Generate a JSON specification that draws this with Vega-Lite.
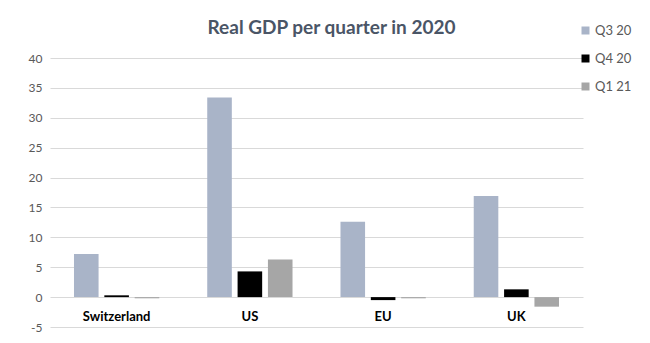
{
  "$schema": "https://vega.github.io/schema/vega-lite/v6.json",
  "width": 533,
  "height": 269,
  "autosize": "none",
  "padding": {"left": 50, "top": 58, "right": 67, "bottom": 16},
  "background": "white",
  "title": {
    "text": "Real GDP per quarter in 2020",
    "font": "Lato",
    "fontSize": 19,
    "fontWeight": "bold",
    "color": "#4a5566",
    "anchor": "middle",
    "dx": 15,
    "offset": -14
  },
  "data": {
    "values": [
      {"country": "Switzerland", "quarter": "Q3 20", "value": 7.2},
      {"country": "Switzerland", "quarter": "Q4 20", "value": 0.3},
      {"country": "Switzerland", "quarter": "Q1 21", "value": -0.2},
      {"country": "US", "quarter": "Q3 20", "value": 33.4},
      {"country": "US", "quarter": "Q4 20", "value": 4.3},
      {"country": "US", "quarter": "Q1 21", "value": 6.3},
      {"country": "EU", "quarter": "Q3 20", "value": 12.6},
      {"country": "EU", "quarter": "Q4 20", "value": -0.5},
      {"country": "EU", "quarter": "Q1 21", "value": -0.2},
      {"country": "UK", "quarter": "Q3 20", "value": 16.9},
      {"country": "UK", "quarter": "Q4 20", "value": 1.3},
      {"country": "UK", "quarter": "Q1 21", "value": -1.6}
    ]
  },
  "mark": {"type": "bar"},
  "encoding": {
    "x": {
      "field": "country",
      "type": "nominal",
      "sort": ["Switzerland", "US", "EU", "UK"],
      "scale": {"paddingInner": 0.36, "paddingOuter": 0.18},
      "axis": {
        "title": null,
        "orient": "bottom",
        "offset": -30,
        "domain": false,
        "ticks": false,
        "labelAngle": 0,
        "labelPadding": 13,
        "labelFont": "Lato",
        "labelFontSize": 13,
        "labelFontWeight": "bold",
        "labelColor": "#000000"
      }
    },
    "xOffset": {
      "field": "quarter",
      "type": "nominal",
      "sort": ["Q3 20", "Q4 20", "Q1 21"],
      "scale": {"paddingInner": 0.19}
    },
    "y": {
      "field": "value",
      "type": "quantitative",
      "scale": {"domain": [-5, 40], "nice": false},
      "axis": {
        "title": null,
        "values": [-5, 0, 5, 10, 15, 20, 25, 30, 35, 40],
        "labelExpr": "replace(datum.label, '\u2212', '-')",
        "domain": false,
        "ticks": false,
        "labelPadding": 8,
        "labelFont": "Lato",
        "labelFontSize": 12,
        "labelColor": "#595959",
        "gridColor": "#d9d9d9",
        "gridWidth": 1
      }
    },
    "color": {
      "field": "quarter",
      "type": "nominal",
      "sort": ["Q3 20", "Q4 20", "Q1 21"],
      "scale": {
        "domain": ["Q3 20", "Q4 20", "Q1 21"],
        "range": ["#a9b4c8", "#000000", "#a6a6a6"]
      },
      "legend": {
        "title": null,
        "orient": "none",
        "legendX": 529,
        "legendY": -34,
        "symbolType": "square",
        "symbolSize": 64,
        "symbolStrokeWidth": 0,
        "labelFont": "Lato",
        "labelFontSize": 13,
        "labelColor": "#595959",
        "rowPadding": 14,
        "labelOffset": 3
      }
    }
  },
  "config": {
    "view": {"stroke": null}
  }
}
